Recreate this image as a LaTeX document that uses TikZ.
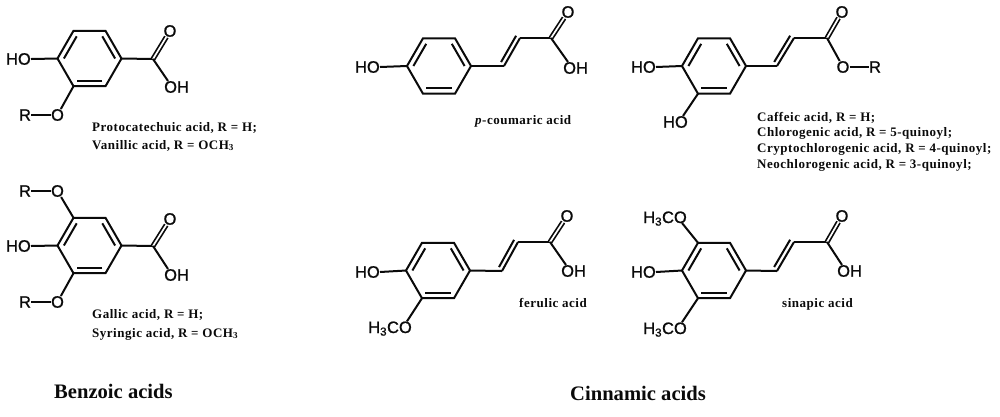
\documentclass[tikz,border=0pt]{standalone}
\usepackage{fontspec}
\setmainfont{Liberation Serif}
\newfontfamily\atomfont[FakeBold=1]{Liberation Sans}
\newfontfamily\capfont[LetterSpace=4]{Liberation Serif}
\usetikzlibrary{calc}
\definecolor{myink}{RGB}{10,10,10}

\newcommand{\benzring}[2]{
  \foreach \Ang [count=\Angi from 1] in {180,240,300,0,60,120}
    \coordinate (#1\Angi) at ($(#2)+(\Ang:32)$);
  \coordinate (#1c) at (#2);
  \draw[bond] (#11) -- (#12) -- (#13) -- (#14) -- (#15) -- (#16) -- cycle;
  \draw[bond] ($(#11)!.2!(#1c)$) -- ($(#12)!.2!(#1c)$);
  \draw[bond] ($(#13)!.2!(#1c)$) -- ($(#14)!.2!(#1c)$);
  \draw[bond] ($(#15)!.2!(#1c)$) -- ($(#16)!.2!(#1c)$);
}
\newcommand{\vinylbond}[2]{
  \draw[bond] (#1) -- (#2);
  \draw[bond,shorten <=2pt] ($(#1)!4.5pt!90:(#2)$) -- ($(#2)!4.5pt!-90:(#1)$);
}

\begin{document}
\begin{tikzpicture}[
  x=1pt,
  y=-1pt,
  bond/.style={draw=myink, line width=2pt},
  carbonyl/.style={draw=myink, line width=1.7pt, double=white, double distance=1.7pt},
  atom/.style={text=myink, inner sep=0pt, font=\atomfont\fontsize{16.5}{17}\selectfont},
  caption/.style={text=myink, inner sep=0pt, anchor=base west, font=\capfont\bfseries\fontsize{13}{14}\selectfont},
  family/.style={text=myink, inner sep=0pt, anchor=base west, font=\bfseries\fontsize{20.6}{22}\selectfont}
]
\useasboundingbox (0,0) rectangle (1000,416);

% protocatechuic / vanillic
\benzring{a}{89.5,58.5}
\node[atom,anchor=east] (aho) at (31,59) {HO};
\node[atom] (ar) at (25,115) {R};
\node[atom] (ao) at (57.5,115) {O};
\node[atom] (ado) at (170,31) {O};
\node[atom,anchor=west] (aoh) at (164,87) {OH};
\coordinate (acc) at (153,59);
\draw[bond] (a1) -- (aho.east);
\draw[bond] (a6) -- (ao);
\draw[bond] (ar) -- (ao);
\draw[bond] (a4) -- (acc);
\draw[carbonyl] (acc) -- (ado);
\draw[bond] (acc) -- ([xshift=4pt]aoh.north west);
\node[caption] (acap1) at (92,131.5) {Protocatechuic acid, R = H;};
\node[caption] (acap2) at (92,149) {Vanillic acid, R = OCH\textsubscript{3}};

% gallic / syringic
\benzring{b}{89.5,245.5}
\node[atom,anchor=east] (bho) at (31,246) {HO};
\node[atom] (br1) at (25,191) {R};
\node[atom] (bo1) at (57.5,191) {O};
\node[atom] (br2) at (25,302) {R};
\node[atom] (bo2) at (57.5,302) {O};
\node[atom] (bdo) at (170,219) {O};
\node[atom,anchor=west] (boh) at (164,275) {OH};
\coordinate (bcc) at (153,246);
\draw[bond] (b1) -- (bho.east);
\draw[bond] (b2) -- (bo1);
\draw[bond] (br1) -- (bo1);
\draw[bond] (b6) -- (bo2);
\draw[bond] (br2) -- (bo2);
\draw[bond] (b4) -- (bcc);
\draw[carbonyl] (bcc) -- (bdo);
\draw[bond] (bcc) -- ([xshift=4pt]boh.north west);
\node[caption] (bcap1) at (92,318) {Gallic acid, R = H;};
\node[caption] (bcap2) at (92,337) {Syringic acid, R = OCH\textsubscript{3}};

% p-coumaric
\benzring{c}{439,66}
\node[atom,anchor=east] (cho) at (380,67) {HO};
\node[atom] (cdo) at (568,12) {O};
\node[atom,anchor=west] (coh) at (563,68) {OH};
\coordinate (cv1) at (504,66);
\coordinate (cv2) at (520,38);
\coordinate (ccc) at (551,38);
\draw[bond] (c1) -- (cho.east);
\draw[bond] (c4) -- (cv1);
\vinylbond{cv1}{cv2}
\draw[bond] (cv2) -- (ccc);
\draw[carbonyl] (ccc) -- (cdo);
\draw[bond] (ccc) -- ([xshift=5pt]coh.north west);
\node[caption] (ccap) at (475,124) {\textit{p}-coumaric acid};

% caffeic family
\benzring{d}{714,66}
\node[atom,anchor=east] (dho1) at (656,67) {HO};
\node[atom,anchor=east] (dho2) at (688,122) {HO};
\node[atom] (ddo) at (842,12) {O};
\node[atom] (deo) at (843,67) {O};
\node[atom] (dr) at (875,67) {R};
\coordinate (dv1) at (777,66);
\coordinate (dv2) at (794,38);
\coordinate (dcc) at (827,38);
\draw[bond] (d1) -- (dho1.east);
\draw[bond] (d6) -- ([xshift=-5pt]dho2.north east);
\draw[bond] (d4) -- (dv1);
\vinylbond{dv1}{dv2}
\draw[bond] (dv2) -- (dcc);
\draw[carbonyl] (dcc) -- (ddo);
\draw[bond] (dcc) -- (deo);
\draw[bond] (deo) -- (dr);
\node[caption] (dcap1) at (757,121) {Caffeic acid, R = H;};
\node[caption] (dcap2) at (757,136) {Chlorogenic acid, R = 5-quinoyl;};
\node[caption] (dcap3) at (757,152) {Cryptochlorogenic acid, R = 4-quinoyl;};
\node[caption] (dcap4) at (757,168) {Neochlorogenic acid, R = 3-quinoyl;};

% ferulic
\benzring{e}{438,270.5}
\node[atom,anchor=east] (eho) at (380,272) {HO};
\node[atom,anchor=base east] (eme) at (412,333) {H\textsubscript{3}CO};
\node[atom] (edo) at (567,216) {O};
\node[atom,anchor=west] (eoh) at (561,271) {OH};
\coordinate (ev1) at (502,271);
\coordinate (ev2) at (518,242);
\coordinate (ecc) at (550,242);
\draw[bond] (e1) -- (eho.east);
\draw[bond] (e6) -- ([xshift=-5pt]eme.north east);
\draw[bond] (e4) -- (ev1);
\vinylbond{ev1}{ev2}
\draw[bond] (ev2) -- (ecc);
\draw[carbonyl] (ecc) -- (edo);
\draw[bond] (ecc) -- ([xshift=5pt]eoh.north west);
\node[caption] (ecap) at (519,307) {ferulic acid};

% sinapic
\benzring{f}{714,270.5}
\node[atom,anchor=east] (fho) at (656,272) {HO};
\node[atom,anchor=base east] (fme1) at (687,223) {H\textsubscript{3}CO};
\node[atom,anchor=base east] (fme2) at (687,334) {H\textsubscript{3}CO};
\node[atom] (fdo) at (842,216) {O};
\node[atom,anchor=west] (foh) at (837,271) {OH};
\coordinate (fv1) at (777,271);
\coordinate (fv2) at (794,242);
\coordinate (fcc) at (827,242);
\draw[bond] (f1) -- (fho.east);
\draw[bond] (f2) -- ([xshift=-5pt]fme1.base east);
\draw[bond] (f6) -- ([xshift=-5pt]fme2.north east);
\draw[bond] (f4) -- (fv1);
\vinylbond{fv1}{fv2}
\draw[bond] (fv2) -- (fcc);
\draw[carbonyl] (fcc) -- (fdo);
\draw[bond] (fcc) -- ([xshift=5pt]foh.north west);
\node[caption] (fcap) at (782,307) {sinapic acid};

\node[family] (benzoic) at (54,398) {Benzoic acids};
\node[family] (cinnamic) at (570,400) {Cinnamic acids};
\end{tikzpicture}
\end{document}
